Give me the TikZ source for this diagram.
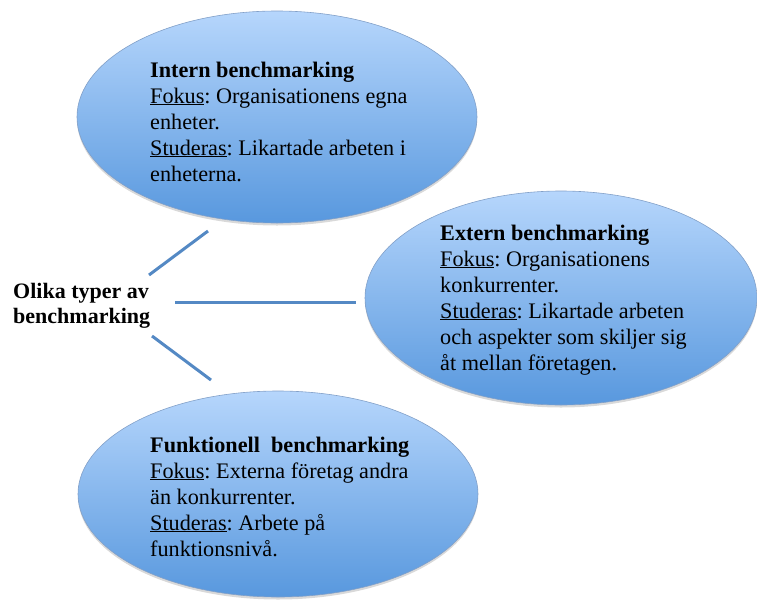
\documentclass[tikz,border=0pt]{standalone}
\usepackage{fontspec}
\setmainfont{Liberation Serif}
\usetikzlibrary{shapes.geometric,shadows}
\definecolor{elltop}{RGB}{182,214,252}
\definecolor{ellbot}{RGB}{88,152,222}
\definecolor{ellrim}{RGB}{130,160,200}
\definecolor{connblue}{RGB}{84,137,196}
\tikzset{
  bubble/.style={ellipse, minimum width=400pt, minimum height=212pt, inner sep=0pt,
    top color=elltop, bottom color=ellbot, draw=ellrim, line width=0.6pt,
    drop shadow={opacity=0.3, shadow xshift=0pt, shadow yshift=-2.5pt}},
  bubtext/.style={anchor=base west, inner sep=0pt, align=left,
    font=\fontsize{22.2}{26}\selectfont\frenchspacing},
  centtext/.style={anchor=base west, inner sep=0pt, align=left,
    font=\fontsize{22}{25.5}\selectfont\bfseries},
  conn/.style={draw=connblue, line width=3pt}
}
\begin{document}
\begin{tikzpicture}[x=1pt,y=-1pt]
\useasboundingbox (0,0) rectangle (757,600);
\node[bubble] (intern) at (277,117) {};
\node[bubble, minimum width=392pt, minimum height=214pt] (extern) at (561,298) {};
\node[bubble, minimum height=206pt] (funk) at (278,494) {};

\node[bubtext] (interntext) at (150,181) {\textbf{Intern benchmarking}\\
\underline{Fokus}: Organisationens egna\\
enheter.\\
\underline{Studeras}: Likartade arbeten i\\
enheterna.};

\node[bubtext] (externtext) at (440,370) {\textbf{Extern benchmarking}\\
\underline{Fokus}: Organisationens\\
konkurrenter.\\
\underline{Studeras}: Likartade arbeten\\
och aspekter som skiljer sig\\
åt mellan företagen.};

\node[bubtext] (funktext) at (150,556) {\textbf{Funktionell\hspace{0.5em}benchmarking}\\
\underline{Fokus}: Externa företag andra\\
än konkurrenter.\\
\underline{Studeras}: Arbete på\\
funktionsnivå.};

\node[centtext] (olika) at (13,323.5) {Olika typer av\\benchmarking};

\coordinate (a1) at (149,275);
\coordinate (b1) at (208,231);
\coordinate (a2) at (175,302);
\coordinate (b2) at (356,302);
\coordinate (a3) at (152,336);
\coordinate (b3) at (211,380);
\draw[conn] (a1) -- (b1);
\draw[conn] (a2) -- (b2);
\draw[conn] (a3) -- (b3);
\end{tikzpicture}
\end{document}
